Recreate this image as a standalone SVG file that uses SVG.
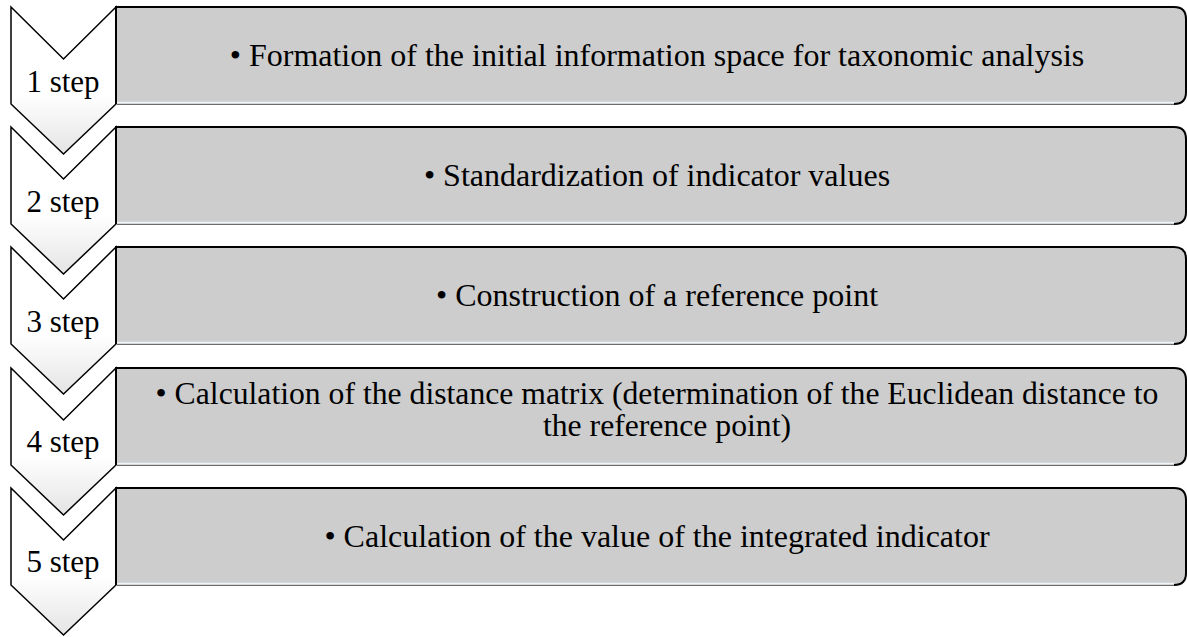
<svg xmlns="http://www.w3.org/2000/svg" width="1187" height="637" viewBox="0 0 1187 637">
<defs>
<linearGradient id="chev" x1="0" y1="0" x2="0" y2="1">
<stop offset="0" stop-color="#ffffff"/>
<stop offset="0.6" stop-color="#ffffff"/>
<stop offset="1" stop-color="#e4e4e4"/>
</linearGradient>
<path id="chevShape" d="M11,0 L63.5,52 L116,0 L116,97 L63.5,147 L11,97 Z"/>
<path id="boxFill" d="M116,0 L1174,0 Q1186,0 1186,12 L1186,85 Q1186,97 1174,97 L116,97 Z"/>
<path id="boxEdge" d="M116,97 L116,0 L1174,0 Q1186,0 1186,12 L1186,85 Q1186,97 1174,97"/>
</defs>
<style>
.chev{fill:url(#chev);stroke:#000;stroke-width:1.5;stroke-linejoin:miter}
.box{fill:#cdcdcd}
.edge{fill:none;stroke:#000;stroke-width:2}
.hl{fill:none;stroke:#eef4f8;stroke-width:1.5}
.sh{fill:none;stroke:#6a6a6a;stroke-width:1.2}
text{font-family:"Liberation Serif","Times New Roman",serif;fill:#000;text-anchor:middle}
.step{font-size:31px}
.lbl{font-size:32px}
.lbl2{font-size:31.7px}
</style>
<g id="node1" transform="translate(0,7)">
<use href="#chevShape" class="chev"/>
<use href="#boxFill" class="box"/>
<line x1="117" y1="95.5" x2="1174" y2="95.5" class="hl"/>
<line x1="117" y1="97.5" x2="1174" y2="97.5" class="sh"/>
<use href="#boxEdge" class="edge"/>
<text x="63" y="85" class="step">1 step</text>
<text x="657" y="59" class="lbl">• Formation of the initial information space for taxonomic analysis</text>
</g>
<g id="node2" transform="translate(0,127)">
<use href="#chevShape" class="chev"/>
<use href="#boxFill" class="box"/>
<line x1="117" y1="95.5" x2="1174" y2="95.5" class="hl"/>
<line x1="117" y1="97.5" x2="1174" y2="97.5" class="sh"/>
<use href="#boxEdge" class="edge"/>
<text x="63" y="85" class="step">2 step</text>
<text x="657" y="59" class="lbl">• Standardization of indicator values</text>
</g>
<g id="node3" transform="translate(0,247)">
<use href="#chevShape" class="chev"/>
<use href="#boxFill" class="box"/>
<line x1="117" y1="95.5" x2="1174" y2="95.5" class="hl"/>
<line x1="117" y1="97.5" x2="1174" y2="97.5" class="sh"/>
<use href="#boxEdge" class="edge"/>
<text x="63" y="85" class="step">3 step</text>
<text x="657" y="59" class="lbl">• Construction of a reference point</text>
</g>
<g id="node4" transform="translate(0,368)">
<use href="#chevShape" class="chev"/>
<use href="#boxFill" class="box"/>
<line x1="117" y1="95.5" x2="1174" y2="95.5" class="hl"/>
<line x1="117" y1="97.5" x2="1174" y2="97.5" class="sh"/>
<use href="#boxEdge" class="edge"/>
<text x="63" y="84" class="step">4 step</text>
<text x="657" y="36" class="lbl2">• Calculation of the distance matrix (determination of the Euclidean distance to</text>
<text x="667" y="68" class="lbl2">the reference point)</text>
</g>
<g id="node5" transform="translate(0,488)">
<use href="#chevShape" class="chev"/>
<use href="#boxFill" class="box"/>
<line x1="117" y1="95.5" x2="1174" y2="95.5" class="hl"/>
<line x1="117" y1="97.5" x2="1174" y2="97.5" class="sh"/>
<use href="#boxEdge" class="edge"/>
<text x="63" y="84" class="step">5 step</text>
<text x="657" y="59" class="lbl">• Calculation of the value of the integrated indicator</text>
</g>
<g id="connectors"></g>
</svg>
